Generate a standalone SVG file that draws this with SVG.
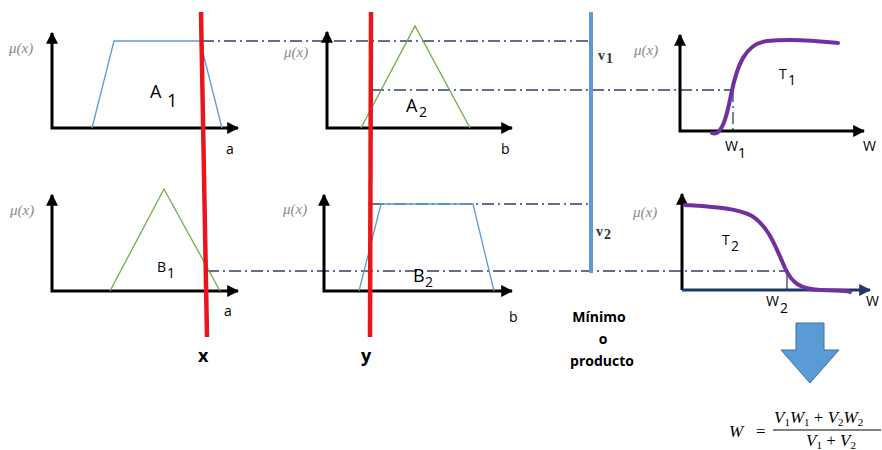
<svg xmlns="http://www.w3.org/2000/svg" width="882" height="450" viewBox="0 0 882 450">
<style>
.ax{stroke:#000;stroke-width:3;fill:none}
.mu{font-family:"Liberation Serif",serif;font-style:italic;font-size:15px;fill:#8a8a8a}
.lbl{font-family:"Open Sans","Liberation Sans",sans-serif;font-size:14px;fill:#000}
.big{font-family:"Open Sans","Liberation Sans",sans-serif;font-size:18px;fill:#000}
.dd{stroke:#2f3f6f;stroke-width:1.3;stroke-dasharray:12,4,2,4;fill:none}
.tri{stroke:#70ad47;stroke-width:1.3;fill:none}
.trap{stroke:#5b9bd5;stroke-width:1.3;fill:none}
.red{stroke:#e8161b;stroke-width:4.5}
.pur{stroke:#7030a0;stroke-width:4;fill:none;stroke-linecap:round}
.v{font-family:"Liberation Serif",serif;font-weight:bold;font-size:14px;fill:#333}
.fm{font-family:"Liberation Serif",serif;font-size:17px;fill:#000}
</style>
<defs>
<marker id="ah" viewBox="0 0 10 10" refX="9" refY="5" markerWidth="4" markerHeight="4" orient="auto-start-reverse" markerUnits="strokeWidth">
<path d="M0,0 L10,5 L0,10 z" fill="#000"/>
</marker>
<marker id="ahb" viewBox="0 0 10 10" refX="9" refY="5" markerWidth="4" markerHeight="4" orient="auto" markerUnits="strokeWidth">
<path d="M0,0 L10,5 L0,10 z" fill="#1f3864"/>
</marker>
</defs>

<g id="connectors">
<line class="dd" x1="202" y1="41" x2="590" y2="41"/>
<line class="dd" x1="372" y1="90" x2="733" y2="90"/>
<line class="dd" x1="733" y1="90" x2="733" y2="130"/>
<line class="dd" x1="372" y1="204" x2="590" y2="204"/>
<line class="dd" x1="207" y1="271" x2="787" y2="271"/>
<line stroke="#2f3f6f" stroke-width="1.3" x1="787" y1="271" x2="787" y2="290"/>
</g>

<g id="panelA1">
<polyline class="ax" points="52,33 52,128 238,128" marker-start="url(#ah)" marker-end="url(#ah)"/>
<polyline class="trap" points="92,128 114,41 200,41 222,128"/>
<text class="mu" x="9" y="53">μ(x)</text>
<text class="big" x="150" y="98">A</text>
<text class="big" x="167" y="107">1</text>
<text class="lbl" x="226" y="154">a</text>
</g>

<g id="panelA2">
<polyline class="ax" points="327,32 327,128 512,128" marker-start="url(#ah)" marker-end="url(#ah)"/>
<polyline class="tri" points="361,128 415,26 470,128"/>
<text class="mu" x="284" y="57">μ(x)</text>
<text class="big" x="406" y="112">A</text>
<text class="lbl" x="419" y="117">2</text>
<text class="lbl" x="501" y="154">b</text>
</g>

<g id="panelB1">
<polyline class="ax" points="52,195 52,291 238,291" marker-start="url(#ah)" marker-end="url(#ah)"/>
<polyline class="tri" points="110,291 164,189 220,291"/>
<text class="mu" x="10" y="215">μ(x)</text>
<text class="lbl" x="157" y="272">B</text>
<text class="lbl" x="167" y="278">1</text>
<text class="lbl" x="224" y="316">a</text>
</g>

<g id="panelB2">
<polyline class="ax" points="324,195 324,291 512,291" marker-start="url(#ah)" marker-end="url(#ah)"/>
<polyline class="trap" points="359,291 381,204 473,204 494,291"/>
<text class="mu" x="283" y="214">μ(x)</text>
<text class="big" x="413" y="282">B</text>
<text class="lbl" x="425" y="287">2</text>
<text class="lbl" x="509" y="322">b</text>
</g>

<g id="lineX">
<line class="red" x1="201" y1="12" x2="207" y2="337"/>
<text class="big" x="198" y="362" font-weight="bold" font-size="20">x</text>
</g>

<g id="lineY">
<line class="red" x1="371" y1="12" x2="370" y2="337"/>
<text class="big" x="361" y="362" font-weight="bold" font-size="20">y</text>
</g>

<g id="minimo">
<line stroke="#5b9bd5" stroke-width="4" x1="591" y1="12" x2="591" y2="273"/>
<text class="v" x="598" y="60">v</text><text class="v" x="606" y="63" font-size="8">1</text>
<text class="v" x="596" y="236">v</text><text class="v" x="604" y="239" font-size="8">2</text>
<text class="lbl" font-weight="bold" x="599" y="322" text-anchor="middle">Mínimo</text>
<text class="lbl" font-weight="bold" x="603" y="344" text-anchor="middle">o</text>
<text class="lbl" font-weight="bold" x="602" y="366" text-anchor="middle">producto</text>
</g>

<g id="panelT1">
<polyline class="ax" points="680,35 680,131 864,131" marker-start="url(#ah)" marker-end="url(#ah)"/>
<path class="pur" d="M712,133 C722,137 727,115 731,95 C737,65 745,44 767,41 C795,38 820,41 838,43"/>
<text class="mu" x="634" y="55">μ(x)</text>
<text class="lbl" x="779" y="79">T</text>
<text class="lbl" x="788" y="85">1</text>
<text class="lbl" x="725" y="151">W</text>
<text class="lbl" x="738" y="158">1</text>
<text class="lbl" x="863" y="151">W</text>
</g>

<g id="panelT2">
<line class="ax" x1="682" y1="290" x2="682" y2="194" marker-end="url(#ah)"/>
<line stroke="#1f3864" stroke-width="3" x1="682" y1="290" x2="870" y2="290" marker-end="url(#ahb)"/>
<path class="pur" d="M685,205 C715,207 737,208 752,216 C768,226 775,245 785,268 C792,283 800,289 820,290 C835,291 845,290 850,292"/>
<text class="mu" x="633" y="217">μ(x)</text>
<text class="lbl" x="722" y="245">T</text>
<text class="lbl" x="731" y="251">2</text>
<text class="lbl" x="766" y="306">W</text>
<text class="lbl" x="780" y="313">2</text>
<text class="lbl" x="866" y="306">W</text>
</g>

<g id="resultArrow">
<polygon points="796,323 824,323 824,350 839,350 810,383 781,350 796,350" fill="#5b9bd5" stroke="#41719c" stroke-width="1"/>
</g>

<g id="formula">
<text class="fm" x="729" y="437" font-style="italic">W</text>
<text class="fm" x="756" y="437">=</text>
<line stroke="#000" stroke-width="1" x1="773" y1="430" x2="881" y2="430"/>
<text class="fm" x="774" y="423"><tspan font-style="italic">V</tspan><tspan font-size="11" dy="3">1</tspan><tspan font-style="italic" dy="-3">W</tspan><tspan font-size="11" dy="3">1</tspan><tspan dy="-3"> + </tspan><tspan font-style="italic">V</tspan><tspan font-size="11" dy="3">2</tspan><tspan font-style="italic" dy="-3">W</tspan><tspan font-size="11" dy="3">2</tspan></text>
<text class="fm" x="806" y="446"><tspan font-style="italic">V</tspan><tspan font-size="11" dy="3">1</tspan><tspan dy="-3"> + </tspan><tspan font-style="italic">V</tspan><tspan font-size="11" dy="3">2</tspan></text>
</g>
</svg>
